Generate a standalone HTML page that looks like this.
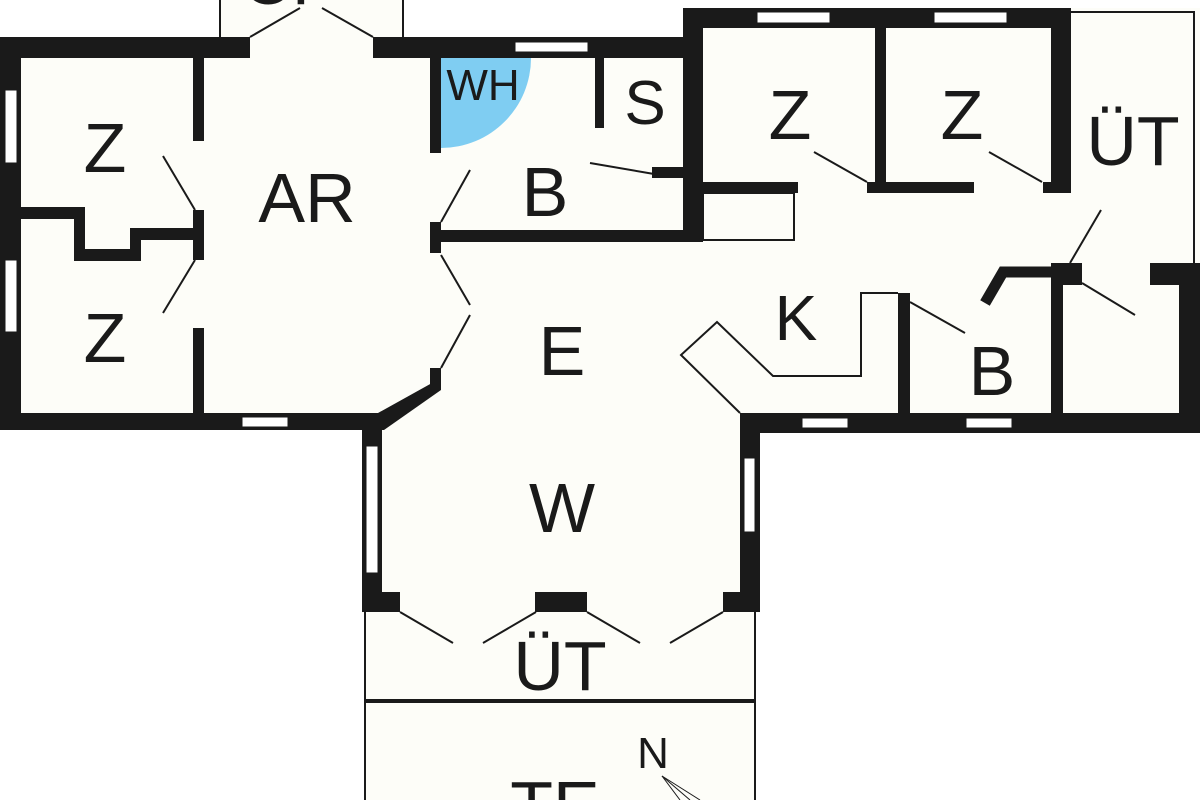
<!DOCTYPE html>
<html><head><meta charset="utf-8"><style>
html,body{margin:0;padding:0;background:#fff;width:1200px;height:800px;overflow:hidden;}
svg{display:block;overflow:hidden;}
text{font-family:"Liberation Sans",Arial,sans-serif;fill:#1a1a1a;text-anchor:middle;}
</style></head><body>
<svg width="1200" height="800" viewBox="0 0 1200 800" xmlns="http://www.w3.org/2000/svg">
<defs><clipPath id="c"><rect x="0" y="0" width="1200" height="800"/></clipPath></defs>
<g clip-path="url(#c)">
<g fill="#fdfdf8">
<rect x="0" y="37" width="700" height="393"/>
<rect x="683" y="8" width="517" height="425"/>
<rect x="362" y="413" width="398" height="200"/>
<rect x="365" y="612" width="390" height="188"/>
<rect x="219" y="0" width="185" height="37"/>
</g>
<path d="M441,58 L531,58 A90,90 0 0 1 441,148 Z" fill="#7fcdf2"/>
<g fill="#1a1a1a">
<rect x="0" y="37" width="250" height="21"/>
<rect x="373" y="37" width="320" height="21"/>
<rect x="0" y="37" width="21" height="393"/>
<rect x="0" y="413" width="378" height="17"/>
<polygon points="378,413 441,378 441,390 384,430 378,430"/>
<rect x="193" y="58" width="11" height="83"/>
<rect x="193" y="210" width="11" height="50"/>
<rect x="193" y="328" width="11" height="85"/>
<rect x="21" y="207" width="64" height="12"/>
<rect x="74" y="207" width="11" height="54"/>
<rect x="74" y="249" width="67" height="12"/>
<rect x="130" y="228" width="11" height="33"/>
<rect x="130" y="228" width="65" height="12"/>
<rect x="430" y="58" width="11" height="95"/>
<rect x="430" y="222" width="11" height="31"/>
<rect x="430" y="368" width="11" height="22"/>
<rect x="441" y="230" width="262" height="12"/>
<rect x="595" y="58" width="9" height="70"/>
<rect x="652" y="167" width="48" height="11"/>
<rect x="683" y="8" width="388" height="20"/>
<rect x="683" y="8" width="20" height="232"/>
<rect x="875" y="28" width="11" height="165"/>
<rect x="703" y="182" width="95" height="11"/>
<rect x="867" y="182" width="107" height="11"/>
<rect x="1043" y="182" width="27" height="11"/>
<rect x="1051" y="8" width="20" height="185"/>
<rect x="1051" y="263" width="31" height="22"/>
<rect x="1150" y="263" width="50" height="22"/>
<rect x="1179" y="263" width="21" height="170"/>
<rect x="1051" y="263" width="12" height="150"/>
<rect x="898" y="293" width="12" height="120"/>
<rect x="740" y="413" width="460" height="20"/>
<rect x="362" y="413" width="20" height="199"/>
<rect x="740" y="413" width="20" height="199"/>
<rect x="362" y="592" width="38" height="20"/>
<rect x="535" y="592" width="52" height="20"/>
<rect x="723" y="592" width="37" height="20"/>
</g>
<polyline points="985,303 1003,272 1051,272" fill="none" stroke="#1a1a1a" stroke-width="11"/>
<g fill="#fff" stroke="#1a1a1a" stroke-width="1">
<rect x="5" y="90" width="12" height="73"/>
<rect x="5" y="260" width="12" height="72"/>
<rect x="242" y="417" width="46" height="10"/>
<rect x="515" y="42" width="73" height="10"/>
<rect x="757" y="12" width="73" height="11"/>
<rect x="934" y="12" width="73" height="11"/>
<rect x="802" y="418" width="46" height="10"/>
<rect x="966" y="418" width="46" height="10"/>
<rect x="366" y="446" width="12" height="127"/>
<rect x="744" y="458" width="11" height="74"/>
</g>
<g fill="none" stroke="#1a1a1a" stroke-width="2">
<line x1="220" y1="0" x2="220" y2="37"/><line x1="403" y1="0" x2="403" y2="37"/>
<line x1="250" y1="37" x2="300" y2="8"/><line x1="373" y1="37" x2="322" y2="8"/>
<line x1="163" y1="156" x2="195" y2="210"/><line x1="163" y1="313" x2="195" y2="260"/>
<line x1="470" y1="170" x2="441" y2="222"/>
<line x1="441" y1="255" x2="470" y2="305"/><line x1="470" y1="315" x2="441" y2="368"/>
<line x1="590" y1="163" x2="654" y2="174"/>
<line x1="814" y1="152" x2="867" y2="182"/><line x1="989" y1="152" x2="1042" y2="182"/>
<line x1="1101" y1="210" x2="1070" y2="263"/><line x1="1082" y1="283" x2="1135" y2="315"/>
<line x1="910" y1="302" x2="965" y2="333"/>
<rect x="703" y="193" width="91" height="47"/>
<polyline points="1071,12 1194,12 1194,265"/>
<polyline points="740,413 681,355 717,322 773,376 861,376 861,293 898,293"/>
<line x1="365" y1="612" x2="365" y2="800"/><line x1="755" y1="612" x2="755" y2="800"/>
<line x1="400" y1="612" x2="453" y2="643"/><line x1="483" y1="643" x2="536" y2="612"/>
<line x1="587" y1="612" x2="640" y2="643"/><line x1="670" y1="643" x2="723" y2="612"/>
</g>
<line x1="365" y1="701" x2="755" y2="701" stroke="#1a1a1a" stroke-width="4"/>
<g stroke="#1a1a1a" stroke-width="1" fill="none">
<line x1="662" y1="776" x2="700" y2="800"/><line x1="662" y1="776" x2="690" y2="800"/><line x1="662" y1="776" x2="680" y2="800"/>
</g>
<g font-size="70">
<text x="290" y="4">CP</text>
<text x="105" y="172">Z</text>
<text x="105" y="362">Z</text>
<text x="307" y="222">AR</text>
<text x="645" y="124" font-size="62">S</text>
<text x="545" y="216">B</text>
<text x="562" y="375">E</text>
<text x="562" y="532">W</text>
<text x="560" y="690">ÜT</text>
<text x="796" y="340" font-size="64">K</text>
<text x="992" y="395">B</text>
<text x="790" y="139">Z</text>
<text x="962" y="139">Z</text>
<text x="1133" y="165">ÜT</text>
<text x="555" y="830">TE</text>
</g>
<text x="483" y="100" font-size="44">WH</text>
<text x="653" y="768" font-size="44">N</text>
</g>
</svg>
</body></html>
